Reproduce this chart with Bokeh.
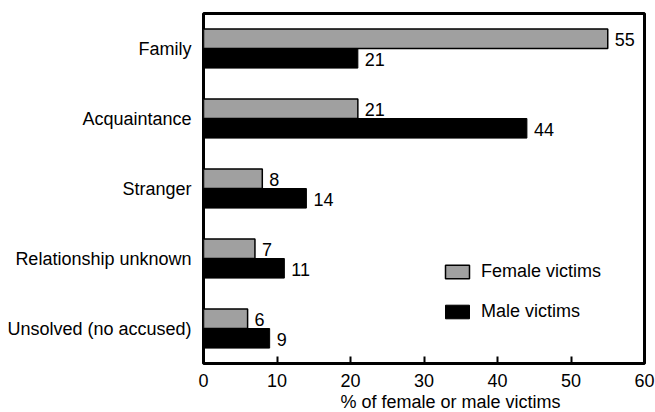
from bokeh.plotting import figure
from bokeh.models import ColumnDataSource, FactorRange, FixedTicker, Legend, LegendItem, Title
from bokeh.transform import dodge
from bokeh.core.properties import value
from bokeh.embed import file_html
from bokeh.resources import INLINE

categories = ["Family", "Acquaintance", "Stranger", "Relationship unknown", "Unsolved (no accused)"]
female = [55, 21, 8, 7, 6]
male = [21, 44, 14, 11, 9]
x_ticks = [0, 10, 20, 30, 40, 50, 60]
x_title = "% of female or male victims"

FONT = "Liberation Sans"
FS = "18px"
GRAY = "#a0a0a0"

src = ColumnDataSource(dict(
    cat=categories,
    female=female,
    male=male,
    female_txt=[str(v) for v in female],
    male_txt=[str(v) for v in male],
))

p = figure(
    width=655, height=412,
    y_range=FactorRange(factors=list(reversed(categories))),
    x_range=(0, 60),
    output_backend="svg", toolbar_location=None,
    min_border_left=203, min_border_right=11, min_border_top=13, min_border_bottom=49,
)

fr = p.hbar(y=dodge("cat", 0.14, range=p.y_range), right="female", left=0, height=0.28,
            source=src, fill_color=GRAY, line_color="black", line_width=1.5)
mr = p.hbar(y=dodge("cat", -0.14, range=p.y_range), right="male", left=0, height=0.28,
            source=src, fill_color="black", line_color="black", line_width=1)

p.text(x="female", y=dodge("cat", 0.14, range=p.y_range), text="female_txt", source=src,
       x_offset=7, y_offset=1, text_baseline="middle", text_align="left",
       text_font=value(FONT), text_font_size=FS, text_color="black")
p.text(x="male", y=dodge("cat", -0.14, range=p.y_range), text="male_txt", source=src,
       x_offset=7, y_offset=1, text_baseline="middle", text_align="left",
       text_font=value(FONT), text_font_size=FS, text_color="black")

legend = Legend(items=[LegendItem(label="Female victims", renderers=[fr]),
                       LegendItem(label="Male victims", renderers=[mr])],
                location=(239, 41), padding=0, margin=0,
                glyph_width=30, glyph_height=17, label_height=17, spacing=19,
                label_standoff=9, label_text_font=FONT, label_text_font_size=FS,
                label_text_color="black", border_line_color=None, background_fill_alpha=0)
p.add_layout(legend, "center")

p.grid.visible = False
p.outline_line_color = "black"
p.outline_line_width = 3
p.background_fill_color = "white"

xa = p.xaxis[0]
xa.ticker = FixedTicker(ticks=x_ticks)
xa.axis_line_color = None
xa.major_tick_in = 7
xa.major_tick_out = 0
xa.major_tick_line_width = 2
xa.major_tick_line_color = "black"
xa.minor_tick_line_color = None
xa.major_label_text_font = FONT
xa.major_label_text_font_size = FS
xa.major_label_text_color = "black"
xa.major_label_standoff = 10

ya = p.yaxis[0]
ya.axis_line_color = None
ya.major_tick_line_color = None
ya.minor_tick_line_color = None
ya.major_label_text_font = FONT
ya.major_label_text_font_size = FS
ya.major_label_text_color = "black"
ya.major_label_standoff = 6

p.add_layout(Title(text=x_title, align="left", offset=137, standoff=0,
                   text_font=FONT, text_font_size=FS, text_font_style="normal",
                   text_color="black"), "below")

open("out.html", "w").write(file_html(p, INLINE))
